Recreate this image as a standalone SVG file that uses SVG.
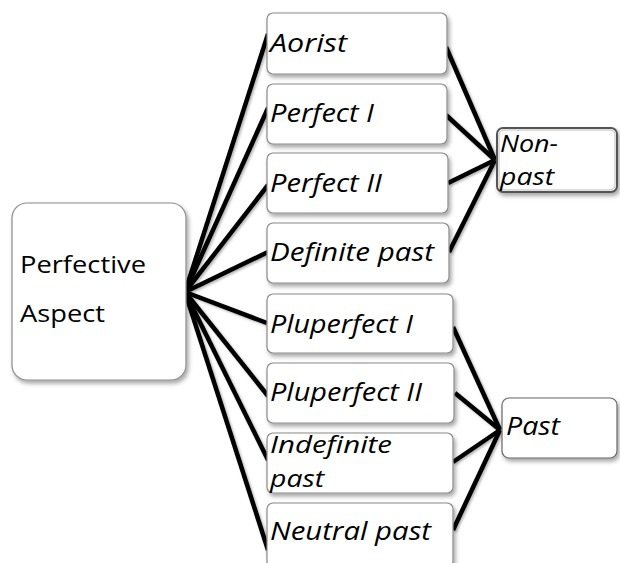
<svg xmlns="http://www.w3.org/2000/svg" width="620" height="563" viewBox="0 0 620 563">
<style>
.box{fill:#fff;stroke:#8a8a8a;stroke-width:1.2;filter:url(#sh)}
.t{font-family:"Open Sans","Liberation Sans",sans-serif;fill:#000}
.it{font-style:italic;font-size:26px}
.sm{font-size:23px}
.up{font-size:24px}
.c line{stroke:#000;stroke-width:4.5;stroke-linecap:butt}
</style>
<defs>
<filter id="sh" x="-10%" y="-10%" width="130%" height="140%">
<feDropShadow dx="2" dy="3" stdDeviation="2" flood-color="#000" flood-opacity="0.35"/>
</filter>
<filter id="lsh" x="-10%" y="-10%" width="130%" height="130%">
<feDropShadow dx="1.5" dy="1.5" stdDeviation="1" flood-color="#000" flood-opacity="0.3"/>
</filter>
</defs>
<rect width="620" height="563" fill="#fff"/>
<g id="connectors" class="c" filter="url(#lsh)">
<line x1="185" y1="292" x2="268" y2="34"/>
<line x1="185" y1="292" x2="268" y2="108"/>
<line x1="185" y1="292" x2="268" y2="185"/>
<line x1="185" y1="292" x2="268" y2="252"/>
<line x1="185" y1="292" x2="267" y2="323"/>
<line x1="185" y1="292" x2="268" y2="396"/>
<line x1="185" y1="292" x2="268" y2="460"/>
<line x1="185" y1="292" x2="268" y2="550"/>
<line x1="446" y1="47" x2="495" y2="160"/>
<line x1="446" y1="115" x2="495" y2="160"/>
<line x1="448" y1="183" x2="495" y2="160"/>
<line x1="449" y1="252" x2="495" y2="160"/>
<line x1="453" y1="327" x2="500" y2="430"/>
<line x1="455" y1="393" x2="500" y2="430"/>
<line x1="453" y1="462" x2="500" y2="430"/>
<line x1="453" y1="530" x2="500" y2="430"/>
</g>
<g id="perfective">
<rect class="box" x="12" y="203" width="174" height="177" rx="15"/>
<text class="t up" x="20" y="273" textLength="126" lengthAdjust="spacingAndGlyphs">Perfective</text>
<text class="t up" x="20" y="322" textLength="85" lengthAdjust="spacingAndGlyphs">Aspect</text>
</g>
<g id="aorist">
<rect class="box" x="267" y="13" width="180" height="61" rx="6"/>
<text class="t it" x="270" y="52" textLength="77" lengthAdjust="spacingAndGlyphs">Aorist</text>
</g>
<g id="perfect1">
<rect class="box" x="267" y="84" width="180" height="60" rx="6"/>
<text class="t it" x="270" y="122" textLength="104" lengthAdjust="spacingAndGlyphs">Perfect I</text>
</g>
<g id="perfect2">
<rect class="box" x="267" y="153" width="181" height="60" rx="6"/>
<text class="t it" x="270" y="192" textLength="112" lengthAdjust="spacingAndGlyphs">Perfect II</text>
</g>
<g id="definite-past">
<rect class="box" x="267" y="223" width="182" height="60" rx="6"/>
<text class="t it" x="270" y="261" textLength="164" lengthAdjust="spacingAndGlyphs">Definite past</text>
</g>
<g id="pluperfect1">
<rect class="box" x="267" y="294" width="186" height="59" rx="6"/>
<text class="t it" x="270" y="333" textLength="143" lengthAdjust="spacingAndGlyphs">Pluperfect I</text>
</g>
<g id="pluperfect2">
<rect class="box" x="267" y="363" width="187" height="60" rx="6"/>
<text class="t it" x="270" y="401" textLength="152" lengthAdjust="spacingAndGlyphs">Pluperfect II</text>
</g>
<g id="indefinite-past">
<rect class="box" x="267" y="433" width="186" height="60" rx="6"/>
<text class="t it sm" x="270" y="453" textLength="122" lengthAdjust="spacingAndGlyphs">Indefinite</text>
<text class="t it sm" x="270" y="487" textLength="54" lengthAdjust="spacingAndGlyphs">past</text>
</g>
<g id="neutral-past">
<rect class="box" x="267" y="503" width="186" height="64" rx="6"/>
<text class="t it" x="270" y="540" textLength="161" lengthAdjust="spacingAndGlyphs">Neutral past</text>
</g>
<g id="non-past">
<rect class="box" x="497" y="128" width="120" height="64" rx="6" style="stroke:#555;stroke-width:2"/>
<rect x="499" y="130" width="116" height="60" rx="5" fill="none" stroke="#aaa" stroke-width="0.8"/>
<text class="t it sm" x="500" y="152" textLength="58" lengthAdjust="spacingAndGlyphs">Non-</text>
<text class="t it sm" x="500" y="185" textLength="54" lengthAdjust="spacingAndGlyphs">past</text>
</g>
<g id="past">
<rect class="box" x="502" y="398" width="115" height="60" rx="7" style="stroke:#666"/>
<text class="t it" x="506" y="435" textLength="54" lengthAdjust="spacingAndGlyphs">Past</text>
</g>
</svg>
